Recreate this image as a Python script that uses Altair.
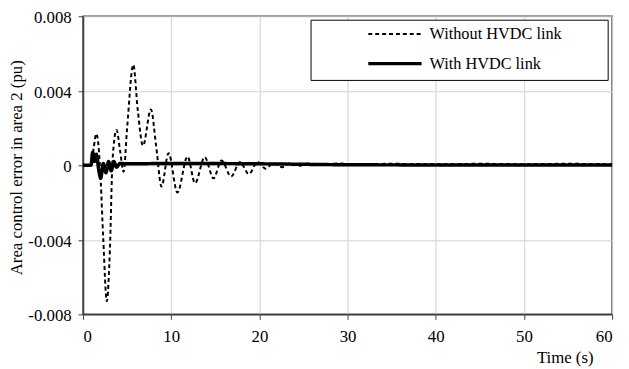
import altair as alt
import pandas as pd

# Time (s) and area control error (pu)
t_without = [0, 0.9, 1.2, 1.5, 1.8, 2.0, 2.3, 2.7, 3.05, 3.35, 3.8, 4.2, 4.6, 5.0, 5.7, 6.2, 6.8,
             7.7, 8.3, 8.9, 9.7, 10.7, 11.85, 12.7, 13.8, 14.8, 15.7, 16.8, 17.8, 18.8, 19.8,
             20.7, 21.6, 22.6, 23.5, 24.5, 25.5, 27.0, 29.0, 31.0, 35.0, 40.0, 45.0, 50.0, 55.0, 60.0]
v_without = [0, 0, 0.0009, 0.0017, 0.0008, -0.0008, -0.004, -0.0073, -0.0045, 0.0003, 0.0019, 0.0008,
             -0.00035, 0.002, 0.0054, 0.003, 0.00105, 0.003, 0.001, -0.00114, 0.00065, -0.00146,
             0.00047, -0.00096, 0.00044, -0.0007, 0.00026, -0.0006, 0.00018, -0.00047, 0.00018,
             -0.00018, 0.00012, -0.0001, 0.00012, -0.00004, 0.0001, 0.00004, 0.0001, 0.00005,
             0.00008, 0.00006, 0.00008, 0.00006, 0.00008, 0.00006]

t_with = [0, 0.9, 1.1, 1.3, 1.5, 1.8, 2.0, 2.3, 2.6, 2.9, 3.2, 3.5, 3.8, 4.2, 5.0, 10.0, 20.0, 30.0, 40.0, 50.0, 60.0]
v_with = [0, 0, 0.0007, 0.0002, 0.0006, -0.0003, -0.0007, 0.0001, -0.0004, 0.0002, -0.0003, 0.0002,
          -0.0001, 0.0001, 0.00008, 0.0001, 0.00008, 0.00003, 0.00002, 0.00002, 0.00002]

series_names = ["Without HVDC link", "With HVDC link"]
x_ticks = [0, 10, 20, 30, 40, 50, 60]
y_ticks = [-0.008, -0.004, 0, 0.004, 0.008]

df = pd.concat([
    pd.DataFrame({"t": t_without, "v": v_without, "s": series_names[0]}),
    pd.DataFrame({"t": t_with, "v": v_with, "s": series_names[1]}),
])

FONT = "Liberation Serif"

lines = alt.Chart(df).mark_line(interpolate="monotone", color="black").encode(
    x=alt.X("t:Q", scale=alt.Scale(domain=[0, 60], nice=False),
            axis=alt.Axis(values=x_ticks, title="Time (s)", titleX=488, titleY=44,
                          titleAlign="center", titleBaseline="middle", labelPadding=10)),
    y=alt.Y("v:Q", scale=alt.Scale(domain=[-0.008, 0.008], nice=False),
            axis=alt.Axis(values=y_ticks, title="Area control error in area 2 (pu)",
                          titleX=-67, titleY=153, titleAngle=-90, titleAlign="center",
                          titleBaseline="middle", labelPadding=7, labelOffset=1.5,
                          labelExpr="datum.value == 0 ? '0' : (datum.value < 0 ? '-' : '') + format(abs(datum.value), '.3f')")),
    strokeDash=alt.StrokeDash("s:N", scale=alt.Scale(domain=series_names, range=[[4, 3], [1, 0]]),
                              legend=alt.Legend(title=None, orient="none", legendX=287, legendY=10,
                                                symbolType="stroke", symbolSize=2916, clipHeight=16,
                                                rowPadding=13, labelOffset=6, padding=0,
                                                labelFont=FONT, labelFontSize=16.5, labelColor="black",
                                                symbolStrokeColor="black")),
    strokeWidth=alt.StrokeWidth("s:N", scale=alt.Scale(domain=series_names, range=[2, 3.5]), legend=None),
    order=alt.Order("s:N", sort="descending"),
)

box = alt.Chart(alt.Data(values=[{}])).mark_rect(fill="white", stroke="black", strokeWidth=1).encode(
    x=alt.value(231), x2=alt.value(532), y=alt.value(4), y2=alt.value(65)
)

chart = alt.layer(lines, box).properties(
    width=536, height=302,
    autosize=alt.AutoSizeParams(type="none"),
    padding={"left": 76, "top": 6, "right": 9, "bottom": 53},
).configure_axis(
    labelFont=FONT, labelFontSize=17, labelColor="black",
    titleFont=FONT, titleFontSize=17, titleFontWeight="normal", titleColor="black",
    domainColor="#404040", domainWidth=1.5, tickColor="#404040", tickSize=5,
    gridColor="#d0d0d0", gridWidth=1,
).configure_view(stroke="#404040", strokeWidth=1.5)

chart.save("out.html", embed_options={"renderer": "svg", "actions": False})
